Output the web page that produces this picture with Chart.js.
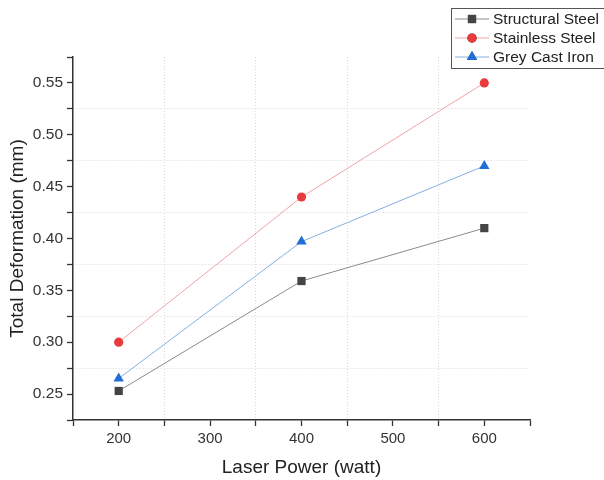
<!DOCTYPE html>
<html>
<head>
<meta charset="utf-8">
<script src="https://cdn.jsdelivr.net/npm/chart.js@4/dist/chart.umd.min.js"></script>
<style>
html,body{margin:0;padding:0;background:#fff;}
#wrap{width:604px;height:480px;}
</style>
</head>
<body>
<div id="wrap"><canvas id="c" width="604" height="480"></canvas></div>
<script>
const laserPower = [200, 400, 600];
const structuralSteel = [0.253, 0.359, 0.410];
const stainlessSteel = [0.300, 0.440, 0.550];
const greyCastIron = [0.265, 0.397, 0.470];
const seriesNames = ['Structural Steel', 'Stainless Steel', 'Grey Cast Iron'];
const xTitle = 'Laser Power (watt)';
const yTitle = 'Total Deformation (mm)';

const FONT = "'Liberation Sans', Arial, sans-serif";

function pts(vals){ return laserPower.map((x,i)=>({x:x, y:vals[i]})); }

const styles = [
  {line:'#8a8a8a', marker:'#444444', shape:'rect', r:5.8},
  {line:'#f0a3a6', marker:'#ea3a3e', shape:'circle', r:4.6},
  {line:'#86aee3', marker:'#1f6fd6', shape:'triangle', r:6}
];
const seriesData = [structuralSteel, stainlessSteel, greyCastIron];

const datasets = seriesData.map((vals,i)=>({
  label: seriesNames[i],
  data: pts(vals),
  borderColor: styles[i].line,
  borderWidth: 1,
  pointStyle: styles[i].shape,
  pointRadius: styles[i].r,
  pointHoverRadius: styles[i].r,
  pointBackgroundColor: styles[i].marker,
  pointBorderColor: styles[i].marker,
  pointBorderWidth: 0,
  tension: 0
}));

const legendPlugin = {
  id: 'customLegend',
  afterDraw(chart){
    const ctx = chart.ctx;
    ctx.save();
    ctx.strokeStyle = '#555';
    ctx.lineWidth = 1;
    ctx.strokeRect(451.5, 8.5, 170, 60);
    const rows = [19, 38, 57];
    rows.forEach((y,i)=>{
      const s = styles[i];
      ctx.strokeStyle = s.line;
      ctx.lineWidth = 1;
      ctx.beginPath(); ctx.moveTo(455, y); ctx.lineTo(489, y); ctx.stroke();
      Chart.helpers.drawPoint(ctx, {pointStyle:s.shape, radius:s.r, borderWidth:0}, 472, y);
      ctx.fillStyle = s.marker;
      ctx.beginPath();
      if (s.shape==='rect'){ const h=s.r*Math.SQRT1_2; ctx.rect(472-h,y-h,2*h,2*h); }
      else if (s.shape==='circle'){ ctx.arc(472,y,s.r,0,Math.PI*2); }
      else { const r=s.r; ctx.moveTo(472, y-r); ctx.lineTo(472+r*0.866, y+r/2); ctx.lineTo(472-r*0.866, y+r/2); ctx.closePath(); }
      ctx.fill();
      ctx.fillStyle = '#222';
      ctx.font = '15.5px ' + FONT;
      ctx.textBaseline = 'middle';
      ctx.textAlign = 'left';
      ctx.fillText(seriesNames[i], 493, y+0.5);
    });
    ctx.restore();
  }
};

function isMajorY(v){ return Math.abs(Math.round(v*1000) % 50) === 0; }
function isMajorX(v){ return Math.round(v) % 100 === 0; }

new Chart(document.getElementById('c'), {
  type: 'line',
  data: { datasets },
  plugins: [legendPlugin],
  options: {
    responsive: false,
    animation: false,
    devicePixelRatio: 1,
    layout: { padding: { top: 57, right: 74, left: 0, bottom: 0 } },
    plugins: { legend: { display: false }, tooltip: { enabled: false } },
    scales: {
      x: {
        type: 'linear',
        min: 150, max: 650,
        afterFit(scale){ scale.height = 60; },
        ticks: {
          stepSize: 50,
          autoSkip: false,
          maxRotation: 0,
          padding: 4,
          color: '#333',
          font: { family: FONT, size: 15 },
          callback: (v)=> isMajorX(v) ? String(v) : ''
        },
        grid: {
          color: (c)=> { const v=c.tick && c.tick.value; return (v!==undefined && !isMajorX(v) && v>150 && v<650) ? '#d9d9d9' : 'rgba(0,0,0,0)'; },
          lineWidth: 1,
          drawTicks: true,
          tickLength: 6,
          tickColor: '#333',
          tickWidth: 1.3
        },
        border: { display: true, color: '#333', width: 1.5, dash: [1,2] },
        title: {
          display: true, text: xTitle, color: '#222',
          font: { family: FONT, size: 19 },
          padding: { top: 0, bottom: 1 }
        }
      },
      y: {
        min: 0.225, max: 0.575,
        afterFit(scale){ scale.width = 73; },
        ticks: {
          stepSize: 0.025,
          autoSkip: false,
          padding: 4,
          color: '#333',
          font: { family: FONT, size: 15.5 },
          callback: (v)=> isMajorY(v) ? v.toFixed(2) : ''
        },
        grid: {
          color: (c)=> { const v=c.tick && c.tick.value; return (v!==undefined && !isMajorY(v) && v>0.23 && v<0.57) ? '#d9d9d9' : 'rgba(0,0,0,0)'; },
          lineWidth: 1,
          drawTicks: true,
          tickLength: 6,
          tickColor: '#333',
          tickWidth: 1.3
        },
        border: { display: true, color: '#333', width: 1.5, dash: [1,2] },
        title: {
          display: true, text: yTitle, color: '#222',
          font: { family: FONT, size: 19 },
          padding: { top: 6, bottom: 0 }
        }
      }
    }
  }
});
</script>
</body>
</html>
